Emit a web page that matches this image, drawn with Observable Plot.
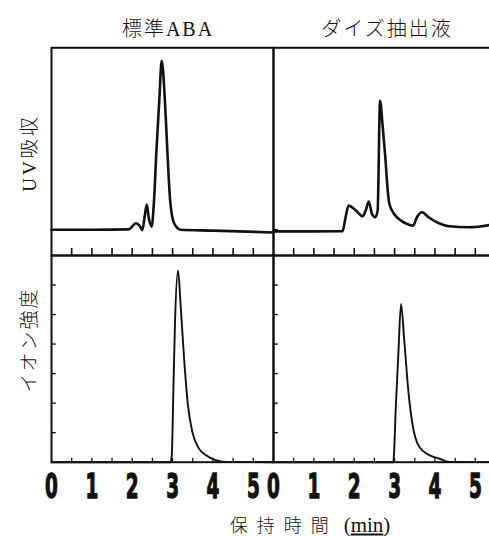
<!DOCTYPE html>
<html><head><meta charset="utf-8">
<script src="https://cdn.jsdelivr.net/npm/d3@7"></script>
<script src="https://cdn.jsdelivr.net/npm/@observablehq/plot@0.6"></script>
<style>
html,body{margin:0;padding:0;background:#fff;overflow:hidden;}
#wrap{position:relative;width:489px;height:536px;overflow:hidden;background:#fff;}
#wrap svg{position:absolute;left:0;}
.lbl{position:absolute;white-space:nowrap;color:#111;font-family:"Liberation Serif","DejaVu Serif","Noto Sans CJK JP",serif;font-weight:300;}
</style></head><body>
<div id="wrap"></div>
<script>
// ---- data ----
const columns = ["標準ABA", "ダイズ抽出液"];
const rowLabels = ["UV吸収", "イオン強度"];
const xAxisTitle = "保持時間";
const xAxisUnit = "min";
const xTickLabels = [0, 1, 2, 3, 4, 5];
const minorTicks = [0.5, 1, 1.5, 2, 2.5, 3, 3.5, 4, 4.5, 5];
const ionYTicks = [1, 2, 3, 4, 5, 6];
const uvYTicks = [12.5];

// UV absorbance (relative, 0–100 of panel height)
const uvStdTime  = [0, 1.0, 1.92, 2.0, 2.09, 2.18, 2.25, 2.31, 2.36, 2.41, 2.48, 2.54, 2.60, 2.67, 2.73, 2.81, 2.87, 2.94, 3.04, 3.20, 4.0, 5.5];
const uvStdValue = [12.4, 12.4, 12.6, 14.0, 15.5, 14.4, 12.2, 19.0, 24.5, 18.0, 13.9, 26.4, 50.5, 74.5, 93.7, 74.5, 50.5, 26.4, 15.4, 12.4, 12.0, 11.1];
const uvSoyTime  = [0, 1.0, 1.71, 1.78, 1.86, 2.045, 2.21, 2.29, 2.36, 2.44, 2.52, 2.58, 2.64, 2.70, 2.77, 2.83, 2.87, 2.99, 3.16, 3.36, 3.46, 3.55, 3.68, 3.85, 4.10, 4.35, 4.85, 5.5];
const uvSoyValue = [11.6, 11.6, 11.7, 17.8, 24.0, 21.6, 18.9, 22.0, 26.0, 20.0, 18.4, 21.6, 74.5, 63.3, 47.3, 31.3, 24.9, 20.0, 16.8, 14.8, 14.4, 18.3, 20.8, 18.3, 15.5, 14.1, 13.6, 15.2];

// Ion intensity (0–7 units)
const ionStdTime  = [0, 2.95, 2.98, 3.02, 3.06, 3.135, 3.20, 3.28, 3.38, 3.49, 3.655, 3.82, 4.07, 4.32, 5.5];
const ionStdValue = [0, 0, 0.24, 2.49, 4.74, 6.49, 5.30, 3.61, 1.93, 1.02, 0.46, 0.24, 0.07, 0.01, 0];
const ionSoyTime  = [0, 2.97, 2.99, 3.03, 3.09, 3.16, 3.24, 3.34, 3.44, 3.61, 3.86, 4.10, 4.35, 5.5];
const ionSoyValue = [0, 0, 0.41, 1.87, 3.56, 5.36, 4.12, 2.43, 1.31, 0.52, 0.24, 0.125, 0.01, 0];

// ---- tables ----
const toRows = (col, ts, vs) => ts.map((t, i) => ({col, t, v: vs[i]}));
const uvData = [...toRows(columns[0], uvStdTime, uvStdValue), ...toRows(columns[1], uvSoyTime, uvSoyValue)];
const ionData = [...toRows(columns[0], ionStdTime, ionStdValue), ...toRows(columns[1], ionSoyTime, ionSoyValue)];
const tickRows = ticks => columns.flatMap(col => ticks.map(v => ({col, v})));

const wrap = document.getElementById("wrap");
const W = 495, ML = 50.5;
const panelW = (W - ML) / 2;
const svgStyle = "max-width:none;overflow:visible;background:transparent;";

const row1 = Plot.plot({
  width: W, height: 255, marginTop: 47.3, marginBottom: 0, marginLeft: ML, marginRight: 0,
  style: svgStyle,
  fx: {domain: columns, padding: 0, axis: null},
  x: {domain: [0, 5.5], label: null},
  y: {domain: [0, 100], axis: null, label: null},
  marks: [
    Plot.axisX({ticks: minorTicks, tickSize: -7, tickFormat: () => "", strokeWidth: 1.6, label: null, stroke: "#111"}),
    Plot.tickY(tickRows(uvYTicks), {fx: "col", y: "v", insetRight: panelW - 5, stroke: "#111", strokeWidth: 1.4}),
    Plot.line(uvData, {fx: "col", x: "t", y: "v", curve: "monotone-x", stroke: "#111", strokeWidth: 2.6}),
    Plot.frame({stroke: "#111", strokeWidth: 2})
  ]
});
row1.style.top = "0px";
wrap.appendChild(row1);

const row2 = Plot.plot({
  width: W, height: 10 + 206.7 + 75, marginTop: 10, marginBottom: 75, marginLeft: ML, marginRight: 0,
  style: svgStyle,
  fx: {domain: columns, padding: 0, axis: null},
  x: {domain: [0, 5.5], label: null},
  y: {domain: [0, 7], axis: null, label: null},
  marks: [
    Plot.axisX({ticks: minorTicks, tickSize: -4, tickFormat: () => "", strokeWidth: 1.3, label: null, stroke: "#111"}),
    Plot.axisX({ticks: xTickLabels, tickSize: 0, tickPadding: 12, tickFormat: d => String(d), label: null,
      fontSize: 33, fontWeight: "bold", fontFamily: "DejaVu Sans", fill: "#111"}),
    Plot.tickY(tickRows(ionYTicks), {fx: "col", y: "v", insetRight: panelW - 5, stroke: "#111", strokeWidth: 1.4}),
    Plot.line(ionData, {fx: "col", x: "t", y: "v", curve: "monotone-x", stroke: "#111", strokeWidth: 1.9}),
    Plot.frame({stroke: "#111", strokeWidth: 2})
  ]
});
row2.style.top = "245px";
wrap.appendChild(row2);

// condense and embolden the tick digits
row2.querySelectorAll('g[aria-label="x-axis tick label"] text').forEach(t => {
  const tr = t.getAttribute("transform") || "";
  const x = t.getAttribute("x");
  if (x != null) t.setAttribute("transform", `${tr} translate(${x},0) scale(0.56,1) translate(${-x},0)`);
  else t.setAttribute("transform", `${tr} scale(0.56,1)`);
  t.setAttribute("stroke", "#111");
  t.setAttribute("stroke-width", "1.3");
});

// ---- text ----
function label(text, x, y, css) {
  const d = document.createElement("div");
  d.className = "lbl";
  d.textContent = text;
  d.style.left = x + "px";
  d.style.top = y + "px";
  Object.assign(d.style, css);
  wrap.appendChild(d);
  return d;
}
label(columns[0], 168, 26.5, {fontSize: "20px", letterSpacing: "2px", transform: "translate(-50%,-50%)"});
label(columns[1], 387, 26.5, {fontSize: "20px", letterSpacing: "2px", transform: "translate(-50%,-50%)"});
label(rowLabels[0], 27, 153, {fontSize: "19px", letterSpacing: "3px", transform: "translate(-50%,-50%) rotate(-90deg)"});
label(rowLabels[1], 27, 340, {fontSize: "19px", letterSpacing: "2px", transform: "translate(-50%,-50%) rotate(-90deg)"});
const xl = label("", 310, 524, {fontSize: "18px", transform: "translate(-50%,-50%)"});
const s1 = document.createElement("span"); s1.textContent = xAxisTitle; s1.style.letterSpacing = "9px";
const s2 = document.createElement("span"); s2.style.fontSize = "21px"; s2.style.marginLeft = "6px";
const u = document.createElement("u"); u.textContent = xAxisUnit;
s2.appendChild(document.createTextNode("(")); s2.appendChild(u); s2.appendChild(document.createTextNode(")"));
xl.appendChild(s1); xl.appendChild(s2);
</script>
</body></html>
